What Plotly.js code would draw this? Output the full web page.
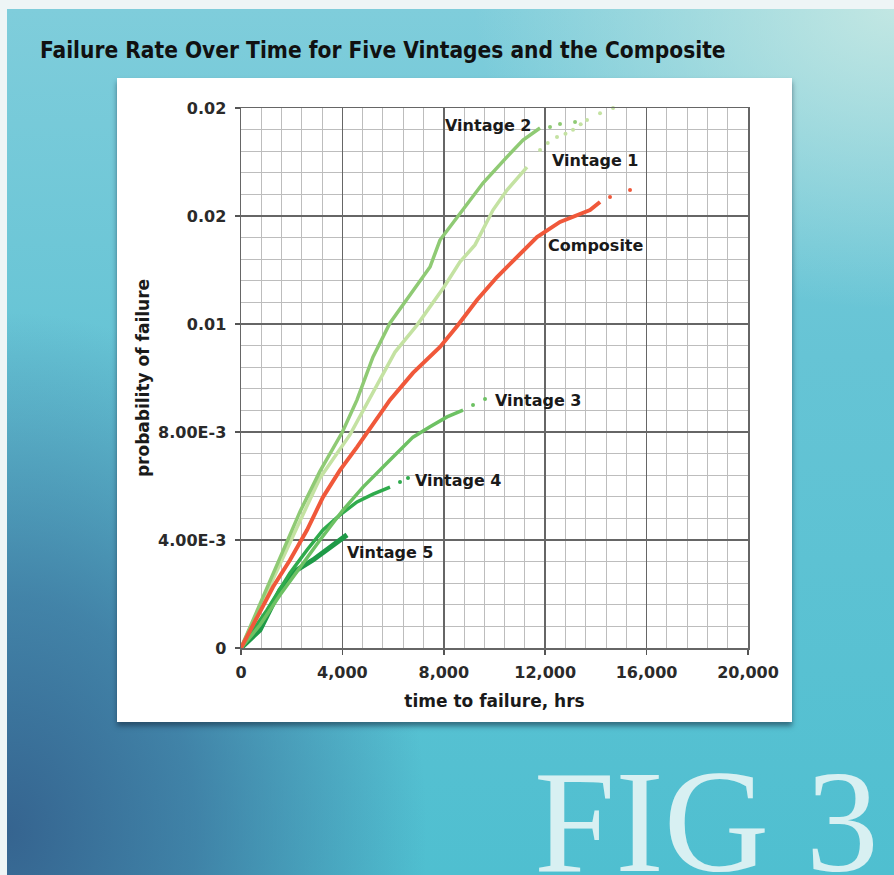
<!DOCTYPE html>
<html>
<head>
<meta charset="utf-8">
<script src="https://cdn.plot.ly/plotly-3.0.1.min.js"></script>
<style>
  html, body { margin: 0; padding: 0; width: 894px; height: 875px; overflow: hidden; background: #eef5f6; }
  #bg {
    position: absolute; left: 7px; top: 9px; width: 887px; height: 866px;
    background:
      radial-gradient(ellipse 420px 520px at 0% 95%, rgba(52,95,140,0.95) 0%, rgba(56,105,150,0.7) 45%, rgba(60,120,165,0) 100%),
      radial-gradient(ellipse 420px 300px at 100% 0%, rgba(205,235,228,0.85) 0%, rgba(205,235,228,0) 100%),
      linear-gradient(180deg, #7fcddb 0%, #66c4d5 40%, #4fbfd0 100%);
  }
  #panel {
    position: absolute; left: 117px; top: 78px; width: 675px; height: 644px;
    background: #ffffff; box-shadow: 0 4px 5px rgba(20,40,60,0.55);
  }
  #chart { position: absolute; left: 0; top: 0; width: 894px; height: 875px; }
</style>
</head>
<body>
<div id="bg"></div>
<div id="panel"></div>
<div id="chart"></div>
<script>
// ---- data ----
const xTickVals = [0, 4000, 8000, 12000, 16000, 20000];
const xTickText = ['0', '4,000', '8,000', '12,000', '16,000', '20,000'];
const yTickVals = [0, 0.004, 0.008, 0.012, 0.016, 0.02];
const yTickText = ['0', '4.00E-3', '8.00E-3', '0.01', '0.02', '0.02'];

const v2Time = [0, 750, 1539, 2328, 3117, 4000, 4576, 5207, 5878, 6785, 7456, 7851, 8640, 9547, 10494, 11125, 11796];
const v2Prob = [0, 0.00165, 0.00335, 0.00505, 0.00655, 0.0080, 0.00919, 0.01078, 0.01204, 0.01326, 0.01411, 0.01511, 0.01611, 0.01722, 0.01819, 0.01881, 0.01926];
const v2TailTime = [12190, 12585, 13177];
const v2TailProb = [0.01930, 0.01941, 0.01948];

const v1Time = [0, 1144, 2328, 3117, 4300, 5207, 6075, 6943, 8009, 8640, 9231, 9941, 10494, 11283];
const v1Prob = [0, 0.00233, 0.00474, 0.00630, 0.00790, 0.00948, 0.01096, 0.01196, 0.01337, 0.01430, 0.01493, 0.01622, 0.01696, 0.01781];
const v1TailTime = [11796, 12100, 12466, 12800, 13098, 13400, 13650, 14163, 14676];
const v1TailProb = [0.01844, 0.01870, 0.01893, 0.01905, 0.01919, 0.01940, 0.01956, 0.01981, 0.02000];

const compTime = [0, 1262, 1933, 2604, 3235, 3906, 4576, 5878, 6785, 7851, 8561, 9310, 10099, 10888, 11677, 12585, 13098, 13768, 14163];
const compProb = [0, 0.00226, 0.00326, 0.00437, 0.00559, 0.00659, 0.00744, 0.00919, 0.01019, 0.01115, 0.01196, 0.01289, 0.01374, 0.01448, 0.01522, 0.01578, 0.01596, 0.01622, 0.01652];
const compTailTime = [14557, 15346];
const compTailProb = [0.01670, 0.01696];

const v3Time = [0, 750, 1539, 2328, 3117, 4024, 4813, 5878, 6785, 7456, 8127, 8758];
const v3Prob = [0, 0.00085, 0.00196, 0.00300, 0.00400, 0.00511, 0.00596, 0.00696, 0.00781, 0.00819, 0.00856, 0.00881];
const v3TailTime = [9153, 9626];
const v3TailProb = [0.00900, 0.00922];

const v4Time = [0, 1026, 1933, 2604, 3235, 3906, 4576, 5207, 5878];
const v4Prob = [0, 0.00141, 0.00278, 0.00363, 0.00437, 0.00493, 0.00541, 0.00570, 0.00596];
const v4TailTime = [6272, 6588];
const v4TailProb = [0.00615, 0.00630];

const v5Time = [0, 750, 1539, 2209, 2840, 3511, 3906, 4182];
const v5Prob = [0, 0.00067, 0.00215, 0.00289, 0.00326, 0.00374, 0.00400, 0.00419];

const seriesNames = ['Vintage 2', 'Vintage 1', 'Composite', 'Vintage 3', 'Vintage 4', 'Vintage 5'];

// ---- styles ----
const colV2 = '#8fca74', colV1 = '#c4e2a2', colComp = '#f0583a', colV3 = '#6dc163', colV4 = '#2fab4c', colV5 = '#1e9a47';

function lineTrace(x, y, color, width, name) {
  return { x: x, y: y, type: 'scatter', mode: 'lines', name: name,
           line: { color: color, width: width, shape: 'linear' }, hoverinfo: 'x+y', cliponaxis: false };
}
function tailTrace(x, y, color, size, name) {
  return { x: x, y: y, type: 'scatter', mode: 'markers', name: name, showlegend: false,
           marker: { color: color, size: size }, cliponaxis: false };
}

const data = [
  lineTrace(v5Time, v5Prob, colV5, 5, seriesNames[5]),
  lineTrace(v4Time, v4Prob, colV4, 3.5, seriesNames[4]),
  tailTrace(v4TailTime, v4TailProb, colV4, 4, seriesNames[4]),
  lineTrace(v3Time, v3Prob, colV3, 3.5, seriesNames[3]),
  tailTrace(v3TailTime, v3TailProb, colV3, 4, seriesNames[3]),
  lineTrace(v1Time, v1Prob, colV1, 3.5, seriesNames[1]),
  tailTrace(v1TailTime, v1TailProb, colV1, 4, seriesNames[1]),
  lineTrace(v2Time, v2Prob, colV2, 3.5, seriesNames[0]),
  tailTrace(v2TailTime, v2TailProb, colV2, 4, seriesNames[0]),
  lineTrace(compTime, compProb, colComp, 4, seriesNames[2]),
  tailTrace(compTailTime, compTailProb, colComp, 4, seriesNames[2])
];

const tickFont = { family: 'DejaVu Sans, Verdana, sans-serif', size: 16, color: '#2a2a2a', weight: 'bold' };
const titleFont = { family: 'DejaVu Sans, Verdana, sans-serif', size: 17, color: '#1a1a1a', weight: 'bold' };
const labelFont = { family: 'DejaVu Sans, Verdana, sans-serif', size: 16, color: '#1a1a1a', weight: 'bold' };

function lab(text, x, y) {
  return { text: text, x: x, y: y, xref: 'x', yref: 'y', xanchor: 'left', yanchor: 'middle', showarrow: false, font: labelFont };
}

const layout = {
  width: 894, height: 875,
  margin: { l: 241, r: 146, t: 108, b: 227 },
  paper_bgcolor: 'rgba(0,0,0,0)',
  plot_bgcolor: '#ffffff',
  showlegend: false,
  title: {
    text: 'Failure Rate Over Time for Five Vintages and the Composite',
    x: 40 / 894, xanchor: 'left', xref: 'container',
    y: 1 - 50 / 875, yanchor: 'middle', yref: 'container',
    font: { family: 'Liberation Sans Narrow, DejaVu Sans Condensed, Arial Narrow, sans-serif', size: 22.5, color: '#111111', weight: 'bold' }
  },
  xaxis: {
    range: [0, 20000], tickmode: 'array', tickvals: xTickVals, ticktext: xTickText,
    ticks: 'outside', ticklen: 5, tickwidth: 1.5, tickcolor: '#555',
    ticklabelstandoff: 4,
    showgrid: true, gridcolor: '#666666', gridwidth: 1.5,
    minor: { tick0: 0, dtick: 800, showgrid: true, gridcolor: '#bdbdbd', gridwidth: 1, ticks: '' },
    showline: true, linecolor: '#666666', linewidth: 1.5, mirror: true, zeroline: false,
    tickfont: tickFont,
    title: { text: 'time to failure, hrs', font: titleFont, standoff: 14 }
  },
  yaxis: {
    range: [0, 0.02], tickmode: 'array', tickvals: yTickVals, ticktext: yTickText,
    ticks: 'outside', ticklen: 5, tickwidth: 1.5, tickcolor: '#555',
    ticklabelstandoff: 5,
    showgrid: true, gridcolor: '#666666', gridwidth: 1.5,
    minor: { tick0: 0, dtick: 0.0008, showgrid: true, gridcolor: '#bdbdbd', gridwidth: 1, ticks: '' },
    showline: true, linecolor: '#666666', linewidth: 1.5, mirror: true, zeroline: false,
    tickfont: tickFont,
    title: { text: 'probability of failure', font: titleFont, standoff: 4 }
  },
  annotations: [
    lab(seriesNames[0], 7969, 0.01937),
    lab(seriesNames[1], 12190, 0.01807),
    lab(seriesNames[2], 12032, 0.01489),
    lab(seriesNames[3], 9941, 0.00915),
    lab(seriesNames[4], 6785, 0.00622),
    lab(seriesNames[5], 4103, 0.00352),
    { text: 'FIG 3', xref: 'paper', yref: 'paper', x: 0.919, y: -0.322, xanchor: 'center', yanchor: 'middle',
      showarrow: false, font: { family: 'Liberation Serif, DejaVu Serif, serif', size: 146, color: 'rgba(228,244,244,0.92)' } }
  ]
};

Plotly.newPlot('chart', data, layout, { displayModeBar: false, staticPlot: true });
</script>
</body>
</html>
